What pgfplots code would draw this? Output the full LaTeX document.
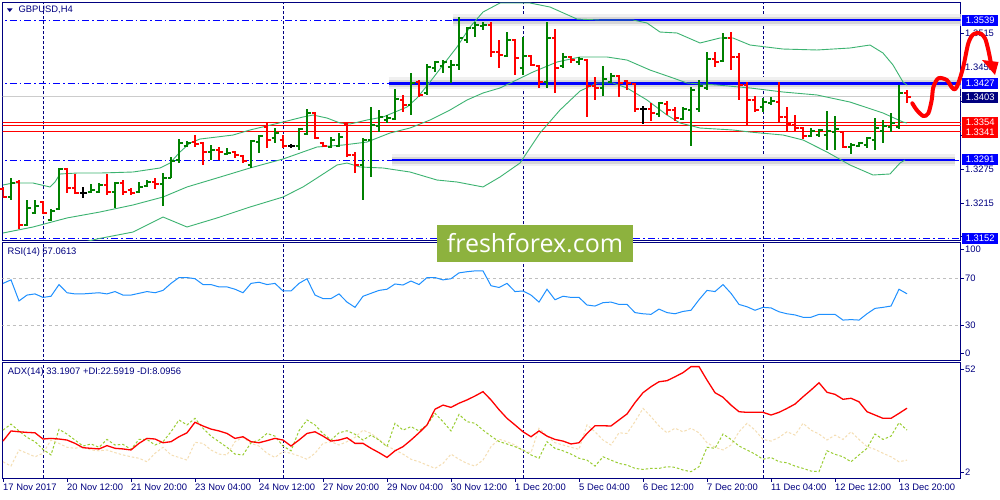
\documentclass[border=0pt]{standalone}
\usepackage{fontspec}
\setmainfont{Liberation Sans}
\newfontfamily\wmfont{Open Sans}
\usepackage{pgfplots}
\usepackage{pgfplotstable}
\pgfplotsset{compat=1.18}

\definecolor{navy}{RGB}{0,0,128}
\definecolor{mtblue}{RGB}{0,0,255}
\definecolor{upc}{RGB}{0,128,0}
\definecolor{dnc}{RGB}{255,0,0}
\definecolor{band}{RGB}{60,179,113}
\definecolor{rsic}{RGB}{30,144,255}
\definecolor{pdi}{RGB}{154,205,50}
\definecolor{mdi}{RGB}{245,222,179}
\definecolor{wmgreen}{RGB}{141,178,62}

% open / close ticks of the bars
\pgfdeclareplotmark{tickr}{\pgfpathmoveto{\pgfpointorigin}\pgfpathlineto{\pgfpoint{3.5pt}{0pt}}\pgfusepathqstroke}
\pgfdeclareplotmark{tickl}{\pgfpathmoveto{\pgfpoint{-3.5pt}{0pt}}\pgfpathlineto{\pgfpointorigin}\pgfusepathqstroke}

\newcommand\lbl{\fontsize{9.4}{10}\selectfont}

% bars: index, open, high, low, close
\pgfplotstableread{
i o h l c
1 1.32255 1.32592 1.32202 1.32503
3 1.31760 1.32202 1.31742 1.32061
4 1.31972 1.32202 1.31954 1.32096
6 1.31848 1.32043 1.31830 1.32008
7 1.32043 1.32769 1.32025 1.32751
11 1.32344 1.32486 1.32326 1.32379
12 1.32344 1.32503 1.32326 1.32468
14 1.32344 1.32521 1.32061 1.32503
17 1.32344 1.32521 1.32326 1.32433
18 1.32450 1.32556 1.32433 1.32521
20 1.32486 1.32680 1.32096 1.32592
21 1.32592 1.32964 1.32592 1.32893
22 1.32911 1.33282 1.32857 1.33212
23 1.33158 1.33247 1.33141 1.33212
26 1.33052 1.33176 1.32911 1.33088
28 1.33017 1.33123 1.32999 1.33035
31 1.32822 1.33265 1.32769 1.33247
32 1.33229 1.33353 1.33035 1.33336
34 1.33300 1.33477 1.33212 1.33389
37 1.33158 1.33477 1.33088 1.33459
38 1.33371 1.33814 1.33353 1.33743
41 1.33141 1.33318 1.33123 1.33265
42 1.33158 1.33389 1.33141 1.33318
45 1.32822 1.33300 1.32202 1.33265
46 1.33265 1.33849 1.32610 1.33530
47 1.33513 1.33796 1.33406 1.33672
48 1.33619 1.33707 1.33566 1.33654
49 1.33637 1.34168 1.33619 1.33991
51 1.33884 1.34451 1.33707 1.34274
53 1.34097 1.34611 1.34062 1.34557
54 1.34540 1.34664 1.34469 1.34646
55 1.34575 1.34681 1.34451 1.34646
56 1.34557 1.34681 1.34274 1.34593
57 1.34593 1.35443 1.34504 1.35071
58 1.35036 1.35266 1.34983 1.35248
59 1.35248 1.35354 1.35089 1.35301
60 1.35284 1.35354 1.35213 1.35301
63 1.34752 1.35177 1.34735 1.35036
65 1.34540 1.35089 1.34416 1.34752
68 1.34292 1.35354 1.34186 1.35071
70 1.34575 1.34805 1.34540 1.34735
72 1.34646 1.34735 1.34593 1.34699
75 1.34186 1.34575 1.34044 1.34345
76 1.34292 1.34451 1.34274 1.34398
82 1.33725 1.33937 1.33672 1.33920
85 1.33637 1.33849 1.33619 1.33814
86 1.33796 1.34203 1.33158 1.34150
87 1.33814 1.34327 1.33760 1.34221
88 1.34186 1.34823 1.34150 1.34699
90 1.34664 1.35160 1.34646 1.35071
95 1.33849 1.34008 1.33760 1.33937
96 1.33920 1.34026 1.33884 1.33955
101 1.33336 1.33477 1.33318 1.33424
102 1.33353 1.33459 1.33318 1.33442
103 1.33353 1.33778 1.33088 1.33424
104 1.33406 1.33690 1.33088 1.33459
106 1.33141 1.33212 1.33017 1.33176
107 1.33158 1.33229 1.33141 1.33212
108 1.33176 1.33318 1.33123 1.33300
109 1.33265 1.33654 1.33088 1.33477
110 1.33424 1.33619 1.33212 1.33513
111 1.33495 1.33743 1.33406 1.33566
112 1.33495 1.34239 1.33459 1.34097
}\upbars

\pgfplotstableread{
i o h l c
0 1.32397 1.32433 1.32238 1.32255
2 1.32521 1.32556 1.31689 1.31760
5 1.32167 1.32185 1.31954 1.31972
8 1.32751 1.32769 1.32326 1.32415
9 1.32415 1.32663 1.32309 1.32326
13 1.32468 1.32663 1.32291 1.32344
15 1.32503 1.32556 1.32291 1.32344
16 1.32379 1.32415 1.32291 1.32326
19 1.32521 1.32592 1.32397 1.32486
24 1.33229 1.33353 1.33141 1.33194
25 1.33212 1.33229 1.32822 1.33052
27 1.33088 1.33141 1.32911 1.33052
29 1.33052 1.33070 1.32946 1.32999
30 1.32981 1.32999 1.32857 1.32893
33 1.33495 1.33566 1.33123 1.33265
35 1.33265 1.33353 1.33123 1.33158
39 1.33743 1.33760 1.33282 1.33300
40 1.33212 1.33229 1.33141 1.33158
43 1.33548 1.33566 1.32964 1.32999
44 1.32999 1.33052 1.32680 1.32822
50 1.33973 1.34062 1.33760 1.33884
52 1.34292 1.34327 1.34026 1.34062
61 1.35301 1.35354 1.34735 1.34823
62 1.34823 1.35036 1.34540 1.34770
64 1.35036 1.35053 1.34416 1.34717
66 1.34752 1.34770 1.34575 1.34593
67 1.34575 1.34593 1.34186 1.34292
69 1.35071 1.35230 1.34097 1.34540
71 1.34735 1.34752 1.34628 1.34681
73 1.34681 1.34699 1.33672 1.34221
74 1.34221 1.34380 1.33973 1.34186
77 1.34398 1.34416 1.34026 1.34274
78 1.34310 1.34327 1.34150 1.34274
79 1.34256 1.34274 1.33760 1.33814
81 1.33814 1.33920 1.33601 1.33743
83 1.33902 1.33955 1.33707 1.33796
84 1.33796 1.33849 1.33601 1.33654
89 1.34699 1.34823 1.34557 1.34646
91 1.35071 1.35177 1.34504 1.34735
92 1.34735 1.34805 1.33973 1.34239
93 1.34239 1.34292 1.33530 1.33973
94 1.33973 1.34044 1.33760 1.33796
97 1.33937 1.34292 1.33583 1.33672
98 1.33672 1.33849 1.33406 1.33548
99 1.33530 1.33707 1.33406 1.33477
100 1.33477 1.33495 1.33282 1.33336
105 1.33406 1.33424 1.33123 1.33141
113 1.34097 1.34150 1.33920 1.34026
}\downbars

\pgfplotstableread{
i o h l c
10 1.32326 1.32433 1.32238 1.32326
36 1.33158 1.33194 1.33123 1.33158
80 1.33814 1.33867 1.33548 1.33814
}\dojibars

\pgfplotsset{
  panel/.style={
    scale only axis, width=958pt, anchor=north west,
    xmin=-0.0625, xmax=119.6875,
    axis line style={navy, line width=0.9pt},
    xtick=\empty, ytick pos=right, yticklabel pos=right,
    tick align=outside, major tick length=3pt,
    tick style={navy, line width=0.8pt},
    tick label style={font=\lbl, text=navy},
    yticklabel style={anchor=west, inner sep=0pt, xshift=1.5pt},
    /pgf/number format/assume math mode=true,
    clip mode=individual,
  },
  sep/.style={navy, line width=0.9pt, dash pattern=on 3pt off 2pt, unbounded coords=jump},
  level/.style={mtblue, line width=0.9pt, dash pattern=on 7pt off 3pt on 1.5pt off 3pt},
  bars/.style={only marks, mark=tickr, mark options={line width=1.1pt},
    error bars/y dir=both, error bars/y explicit, error bars/error mark=none,
    error bars/error bar style={line width=1.1pt}},
}
\tikzset{pbox/.style={anchor=west, text=white, font=\lbl, minimum width=36pt, minimum height=11pt, inner sep=0pt}}

\newcommand\srline[3]{%
  \addplot[black!6, line width=12pt] coordinates {(#1,#3) (#2,#3)};
  \addplot[black!16, line width=7pt] coordinates {(#1,#3) (#2,#3)};
  \addplot[mtblue, line width=2.6pt] coordinates {(#1,#3) (#2,#3)};}

\begin{document}
\begin{tikzpicture}
\fill[white] (0pt,0pt) rectangle (1000pt,-500pt);
\useasboundingbox (0pt,0pt) rectangle (1000pt,-500pt);

% ---------------- price window
\begin{axis}[panel, at={(2.5pt,-2.5pt)}, height=238pt,
  ymin=1.31485, ymax=1.35700,
  ytick={1.3155,1.3215,1.3275,1.3335,1.3395,1.3455,1.3515},
  yticklabels={,1.3215,1.3275,,,1.3455,1.3515}]

\addplot[sep] coordinates {(5,1.3) (5,1.4) (5,nan) (35,1.3) (35,1.4) (35,nan) (65,1.3) (65,1.4) (65,nan) (95,1.3) (95,1.4)};

\addplot[level] coordinates {(-1,1.3539) (121,1.3539)};
\addplot[level] coordinates {(-1,1.3427) (121,1.3427)};
\addplot[level] coordinates {(-1,1.3291) (121,1.3291)};
\addplot[level] coordinates {(-1,1.3152) (121,1.3152)};

\srline{56.2}{121}{1.3539}
\srline{48.2}{121}{1.3427}
\srline{48.6}{119}{1.3291}

\addplot[black!20, line width=0.8pt] coordinates {(-1,1.3403) (121,1.3403)};
\addplot[dnc, line width=0.9pt] coordinates {(-1,1.3358) (121,1.3358)};
\addplot[dnc, line width=0.9pt] coordinates {(-1,1.33525) (121,1.33525)};
\addplot[dnc, line width=0.9pt] coordinates {(-1,1.3341) (121,1.3341)};

% Bollinger bands
\addplot[band, line width=0.9pt] coordinates {
(0,1.32468) (1.25,1.32503) (3.75,1.32503) (5.875,1.32433) (6.5,1.32521) (7.125,1.32663)
(9.25,1.32680) (12.125,1.32680) (16.25,1.32698) (19.625,1.32769) (20.875,1.32857)
(22.125,1.33052) (23.375,1.33212) (24.625,1.33282) (26.75,1.33318) (28.75,1.33353)
(30.875,1.33442) (35,1.33583) (37.5,1.33672) (38.75,1.33707) (40.5,1.33654)
(42.125,1.33566) (43.375,1.33548) (45.5,1.33619) (47.5,1.33672) (50.5,1.33849)
(51.75,1.34008) (53.375,1.34292) (55,1.34593) (56.75,1.34912) (58.375,1.35266)
(60,1.35531) (62.125,1.35691) (65.875,1.35691) (68.375,1.35620) (71.75,1.35407)
(74.625,1.35390) (78.75,1.35390) (80.5,1.35337) (82.125,1.35177) (84.25,1.35160)
(87.125,1.34983) (89.625,1.35071) (91.25,1.35071) (93.375,1.34947) (97.5,1.34876)
(101.75,1.34859) (105.875,1.34894) (108.375,1.34947) (110,1.34805) (111.25,1.34593)
(112.5,1.34292) (113,1.34239)};
\addplot[band, line width=0.9pt] coordinates {
(0,1.31618) (3.75,1.31724) (8,1.31884) (12.125,1.31990) (16.25,1.32114) (20,1.32255)
(23,1.32433) (26.75,1.32592) (30.875,1.32769) (35,1.32928) (39.25,1.33141)
(42.5,1.33176) (45.5,1.33229) (48.375,1.33389) (50.875,1.33477) (53.375,1.33619)
(55.875,1.33796) (58,1.33973) (60,1.34097) (62.125,1.34186) (66.25,1.34469)
(69.25,1.34646) (72.125,1.34735) (75.5,1.34735) (78,1.34681) (80.875,1.34504)
(83.75,1.34363) (85.5,1.34274) (89.25,1.34239) (93.375,1.34186) (97.5,1.34115)
(101.75,1.34062) (105.875,1.33937) (110,1.33743) (112.5,1.33583) (113,1.33566)};
\addplot[band, line width=0.9pt] coordinates {
(8.5,1.3140) (11.75,1.31512) (16.25,1.31635) (20,1.31901) (23,1.31724) (26.75,1.31884)
(30.875,1.32078) (35,1.32255) (37.5,1.32433) (39.25,1.32592) (41.75,1.32822)
(43,1.32857) (44.625,1.32787) (47.5,1.32769) (50.875,1.32698) (54.25,1.32556)
(56.75,1.32521) (60,1.32433) (62.125,1.32610) (64.625,1.32857) (67.125,1.33389)
(69.625,1.33796) (72.125,1.34132) (74.25,1.34274) (76.25,1.34274) (78,1.34186)
(80.5,1.33973) (83,1.33707) (84.625,1.33566) (87.125,1.33477) (91.25,1.33442)
(93.375,1.33406) (97.5,1.33353) (100,1.33265) (103,1.33052) (105.875,1.32822)
(108.75,1.32645) (110.875,1.32663) (112.125,1.32857) (112.75,1.32911)};

% OHLC bars
\addplot[upc, bars] table[x=i, y=c, y error plus expr=\thisrow{h}-\thisrow{c}, y error minus expr=\thisrow{c}-\thisrow{l}] {\upbars};
\addplot[upc, only marks, mark=tickl, mark options={line width=1.1pt}] table[x=i, y=o] {\upbars};
\addplot[dnc, bars] table[x=i, y=c, y error plus expr=\thisrow{h}-\thisrow{c}, y error minus expr=\thisrow{c}-\thisrow{l}] {\downbars};
\addplot[dnc, only marks, mark=tickl, mark options={line width=1.1pt}] table[x=i, y=o] {\downbars};
\addplot[black, bars] table[x=i, y=c, y error plus expr=\thisrow{h}-\thisrow{c}, y error minus expr=\thisrow{c}-\thisrow{l}] {\dojibars};
\addplot[black, only marks, mark=tickl, mark options={line width=1.1pt}] table[x=i, y=o] {\dojibars};

% price labels on the scale
\node[pbox, fill=mtblue] at (axis cs:119.875,1.35383) {1.3539};
\node[pbox, fill=mtblue] at (axis cs:119.875,1.34269) {1.3427};
\node[pbox, fill=navy] at (axis cs:119.875,1.34026) {1.3403};
\node[pbox, fill=dnc] at (axis cs:119.875,1.33578) {1.3354};
\node[pbox, fill=dnc] at (axis cs:119.875,1.33401) {1.3341};
\node[pbox, fill=mtblue] at (axis cs:119.875,1.32928) {1.3291};
\node[pbox, fill=mtblue] at (axis cs:119.875,1.31524) {1.3152};
\end{axis}

% ---------------- RSI window
\begin{axis}[panel, at={(2.5pt,-242.5pt)}, height=118pt,
  ymin=0, ymax=101, ytick={6.2,30,70,95.2}, yticklabels={0,30,70,100}]
\addplot[black!25, line width=0.8pt, dash pattern=on 3pt off 3pt] coordinates {(-1,70) (121,70)};
\addplot[black!25, line width=0.8pt, dash pattern=on 3pt off 3pt] coordinates {(-1,30) (121,30)};
\addplot[sep] coordinates {(5,-10) (5,110) (5,nan) (35,-10) (35,110) (35,nan) (65,-10) (65,110) (65,nan) (95,-10) (95,110)};
\addplot[rsic, line width=1pt] coordinates {
(0,66) (1,69) (2,51) (3,56) (4,57) (5,54) (6,55) (7,65) (8,58) (9,57) (10,57) (11,57.5)
(12,58) (13,57) (14,59) (15,56) (16,56) (17,57.5) (18,59) (19,58) (20,60) (21,66) (22,71)
(23,71) (24,70) (25,65) (26,65) (27,63) (28,63) (29,61) (30,58) (31,66) (32,67) (33,65)
(34,66) (35,59.5) (36,59.5) (37,66) (38,70) (39,56) (40,53) (41,53) (42,57) (43,50)
(44,45.5) (45,55) (46,57.5) (47,60) (48,61) (49,65.5) (50,64.6) (51,68) (52,65) (53,71)
(54,71) (55,69) (56,70) (57,75) (58,76) (59,76.7) (60,76.7) (61,64) (62,62.5) (63,66)
(64,59) (65,59.5) (66,56) (67,50) (68,61) (69,52) (70,55) (71,54) (72,54) (73,47.5)
(74,46.6) (75,49.5) (76,50) (77,48) (78,48) (79,41) (80,40) (81,39.5) (82,44) (83,41)
(84,40) (85,42) (86,43) (87,52) (88,60) (89,59) (90,65) (91,57.5) (92,48) (93,46) (94,43)
(95,45.5) (96,45) (97,41.7) (98,40) (99,39) (100,37) (101,37) (102,39.5) (103,39.5)
(104,39.5) (105,34.6) (106,35) (107,34.6) (108,40) (109,44.6) (110,45.5) (111,46.6)
(112,61) (113,57.1)};
\end{axis}

% ---------------- ADX window
\begin{axis}[panel, at={(2.5pt,-362.5pt)}, height=116pt,
  ymin=-0.8, ymax=55.3, ytick={2,52},
  xtick={0,8,16,24,32,40,48,56,64,72,80,88,96,104,112},
  xticklabels={17 Nov 2017,20 Nov 12:00,21 Nov 20:00,23 Nov 04:00,24 Nov 12:00,27 Nov 20:00,29 Nov 04:00,30 Nov 12:00,1 Dec 20:00,5 Dec 04:00,6 Dec 12:00,7 Dec 20:00,11 Dec 04:00,12 Dec 12:00,13 Dec 20:00},
  xtick pos=bottom, xticklabel pos=bottom,
  xticklabel style={anchor=north west, inner sep=0pt, yshift=-2pt}]
\addplot[sep] coordinates {(5,-10) (5,70) (5,nan) (35,-10) (35,70) (35,nan) (65,-10) (65,70) (65,nan) (95,-10) (95,70)};
% -DI
\addplot[mdi, line width=1pt, dash pattern=on 2.5pt off 2pt] coordinates {
(0,7.3) (1,5.2) (2,13.0) (3,11.4) (4,9.7) (5,11.4) (6,17.8) (7,16.2) (8,14.3) (9,13.8)
(10,14.6) (11,13.0) (12,12.6) (13,13.0) (14,11.7) (15,10.6) (16,9.7) (17,9.0) (18,7.3)
(19,11.4) (20,14.3) (21,10.6) (22,9.4) (23,8.1) (24,16.7) (25,16.2) (26,13.0) (27,11.0)
(28,10.6) (29,17.0) (30,19.1) (31,16.2) (32,14.9) (33,11.4) (34,9.4) (35,12.2) (36,11.4)
(37,10.1) (38,8.5) (39,11.4) (40,16.2) (41,17.0) (42,15.4) (43,17.0) (44,19.1) (45,22.6)
(46,21.0) (47,18.1) (48,14.9) (49,13.0) (50,11.0) (51,8.5) (52,7.3) (53,5.7) (54,4.1)
(55,6.5) (56,11.0) (57,8.5) (58,6.5) (59,5.2) (60,8.1) (61,14.6) (62,18.2) (63,17.0)
(64,15.4) (65,12.6) (66,11.7) (67,23.5) (68,19.7) (69,16.5) (70,15.4) (71,14.3) (72,13.3)
(73,25.1) (74,21.8) (75,17.8) (76,15.4) (77,21.3) (78,21.0) (79,26.7) (80,33.1) (81,29.1)
(82,24.6) (83,21.3) (84,23.5) (85,21.8) (86,23.5) (87,21.3) (88,16.5) (89,14.3) (90,13.0)
(91,15.4) (92,21.8) (93,25.9) (94,22.6) (95,18.1) (96,17.3) (97,19.1) (98,21.8) (99,20.2)
(100,25.9) (101,22.6) (102,20.7) (103,17.8) (104,20.2) (105,18.1) (106,21.8) (107,18.1)
(108,14.6) (109,13.3) (110,11.4) (111,9.7) (112,7.3) (113,8.1)};
% +DI
\addplot[pdi, line width=1pt, dash pattern=on 2.5pt off 2pt] coordinates {
(0,22.6) (1,25.5) (2,22.2) (3,19.1) (4,17.0) (5,13.3) (6,10.6) (7,23.0) (8,20.7) (9,17.8)
(10,14.9) (11,15.9) (12,14.3) (13,18.1) (14,15.4) (15,15.7) (16,13.3) (17,18.1) (18,18.1)
(19,15.4) (20,17.0) (21,21.8) (22,27.5) (23,25.1) (24,28.3) (25,23.5) (26,19.7) (27,17.0)
(28,14.3) (29,11.0) (30,10.6) (31,16.5) (32,17.8) (33,21.0) (34,19.7) (35,14.9) (36,12.6)
(37,22.3) (38,27.5) (39,25.1) (40,21.0) (41,17.8) (42,21.3) (43,22.3) (44,20.6) (45,17.8)
(46,20.2) (47,17.8) (48,14.6) (49,25.9) (50,22.6) (51,24.3) (52,22.2) (53,25.1) (54,30.7)
(55,26.7) (56,22.2) (57,30.2) (58,26.7) (59,25.9) (60,22.6) (61,19.7) (62,17.1) (63,15.9)
(64,14.6) (65,13.0) (66,10.6) (67,9.0) (68,17.0) (69,13.8) (70,12.6) (71,11.0) (72,9.0)
(73,8.1) (74,5.2) (75,9.7) (76,8.1) (77,6.5) (78,5.7) (79,4.1) (80,3.6) (81,4.1) (82,4.1)
(83,4.9) (84,4.6) (85,3.3) (86,2.5) (87,4.9) (88,14.3) (89,13.8) (90,20.7) (91,18.1)
(92,14.9) (93,13.0) (94,11.0) (95,8.5) (96,9.4) (97,7.3) (98,6.8) (99,5.2) (100,4.1)
(101,2.8) (102,2.5) (103,12.6) (104,10.9) (105,9.7) (106,7.3) (107,10.6) (108,13.8)
(109,20.7) (110,18.1) (111,19.7) (112,26.2) (113,22.6)};
% ADX
\addplot[dnc, line width=1.3pt] coordinates {
(0,17.3) (1,22.2) (2,21.8) (3,21.5) (4,21.3) (5,18.3) (6,18.6) (7,18.3) (8,17.8) (9,16.2)
(10,14.1) (11,13.8) (12,13.5) (13,15.1) (14,13.8) (15,13.5) (16,13.0) (17,16.2) (18,18.6)
(19,18.3) (20,16.5) (21,17.0) (22,19.4) (23,21.3) (24,26.4) (25,24.6) (26,23.1) (27,22.2)
(28,21.0) (29,18.6) (30,19.4) (31,17.0) (32,16.5) (33,17.5) (34,18.6) (35,17.8) (36,14.9)
(37,17.8) (38,21.0) (39,21.8) (40,19.7) (41,17.3) (42,17.8) (43,18.9) (44,16.2) (45,16.2)
(46,13.8) (47,11.7) (48,9.4) (49,12.6) (50,14.6) (51,17.8) (52,21.3) (53,25.1) (54,32.7)
(55,34.7) (56,33.6) (57,35.6) (58,37.2) (59,39.1) (60,41.2) (61,37.2) (62,32.5) (63,28.3)
(64,25.1) (65,21.8) (66,19.4) (67,22.2) (68,19.7) (69,18.1) (70,17.3) (71,15.9) (72,16.5)
(73,21.0) (74,24.7) (75,24.7) (76,24.6) (77,27.5) (78,30.4) (79,35.9) (80,40.7) (81,43.6)
(82,46.0) (83,46.5) (84,48.4) (85,50.4) (86,53.3) (87,53.3) (88,46.8) (89,40.7) (90,38.5)
(91,34.7) (92,31.5) (93,31.2) (94,31.2) (95,31.2) (96,29.9) (97,31.2) (98,33.1) (99,35.2)
(100,38.7) (101,42.0) (102,45.5) (103,40.9) (104,39.9) (105,37.5) (106,38.0) (107,36.3)
(108,31.5) (109,29.9) (110,28.3) (111,28.3) (112,30.7) (113,33.2)};
\end{axis}

% window captions
\fill[navy] (7pt,-8.5pt) -- (12.5pt,-8.5pt) -- (9.75pt,-12pt) -- cycle;
\node[anchor=west, inner sep=0pt, font=\lbl, text=navy] at (18.3pt,-10.3pt) {GBPUSD,H4};
\node[anchor=west, inner sep=0pt, font=\lbl, text=navy] at (7.3pt,-251.7pt) {RSI(14) 57.0613};
\node[anchor=west, inner sep=0pt, font=\lbl, text=navy] at (7.6pt,-371.7pt) {ADX(14) 33.1907 +DI:22.5919 -DI:8.0956};

% hand drawn forecast arrow
\begin{scope}[x=1pt, y=1pt]
\draw[red, line width=4pt, line cap=round, line join=round] plot[smooth, tension=0.5] coordinates {
(912.3,-103.3) (916.7,-110) (923.3,-116) (928.3,-113.3) (931.7,-100) (933.3,-87.3)
(938.3,-78.3) (946.7,-80) (951.7,-87.3) (955,-89.3) (958.3,-83.3) (963.3,-66.7)
(968.3,-43.3) (973.3,-34.3) (980,-33.3) (985,-38.3) (988.3,-50) (990.7,-62)};
\fill[red] (982,-60) -- (998.5,-62) -- (995,-75) -- cycle;

% watermark
\fill[wmgreen] (437.3,-225) rectangle (632.7,-261.7);
\node[text=white, inner sep=0pt, font=\wmfont\fontsize{25}{28}\selectfont] at (535,-243) {freshforex.com};
\end{scope}
\end{tikzpicture}
\end{document}
